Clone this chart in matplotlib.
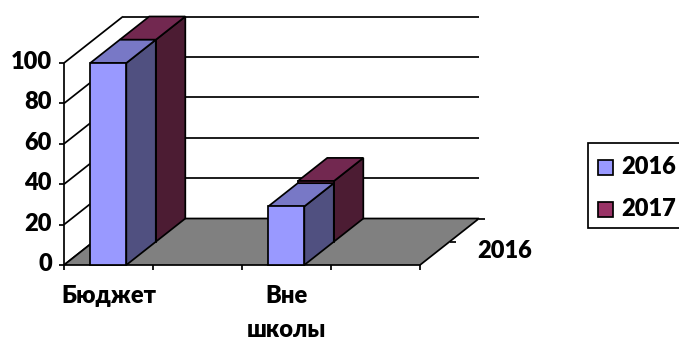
import matplotlib
matplotlib.use("Agg")
import matplotlib.pyplot as plt
from matplotlib.patches import Polygon, Rectangle

plt.rcParams["font.family"] = ["Lato", "DejaVu Sans"]

# Chart data
categories = ["Бюджет", "", "Вне\nшколы", ""]
series_names = ["2016", "2017"]
values_2016 = [100, 0, 29, 0]
values_2017 = [100, 0, 30, 0]
y_ticks = [0, 20, 40, 60, 80, 100]
depth_label = "2016"

# Colours per series: front, top, side
colors_2016 = ("#9999ff", "#7878c6", "#505080")
colors_2017 = ("#993366", "#722850", "#4c1c33")

# Pseudo 3D projection, result is in image pixels
left, base, step = 64, 265, 89
y_scale = 2.02
depth_x, depth_y = 59, 46.5
line_w = 1.25
font_size = 17
font_weight = "heavy"


def project(cat, value, depth):
    return (left + cat * step + depth * depth_x,
            base - value * y_scale - depth * depth_y)


fig = plt.figure(figsize=(6.79, 3.4), dpi=100)
ax = fig.add_axes([0, 0, 1, 1])
ax.set_xlim(0, 679)
ax.set_ylim(340, 0)
ax.axis("off")

n = len(categories)
top = max(y_ticks)


def line(p, q, z=1):
    ax.plot([p[0], q[0]], [p[1], q[1]], color="black", lw=line_w, zorder=z,
            solid_capstyle="butt")


def poly(points, color, z):
    ax.add_patch(Polygon(points, closed=True, facecolor=color, edgecolor="black",
                         lw=line_w, joinstyle="miter", zorder=z))


# Gridlines on the walls and the y axis
for v in y_ticks:
    line(project(0, v, 0), project(0, v, 1))
    if v > 0:
        line(project(0, v, 1), project(n, v, 1))
    x, y = project(0, v, 0)
    line((x - 5, y), (x, y))
    ax.text(52, y - 1, str(v), ha="right", va="center", fontsize=font_size,
            fontweight=font_weight)
line(project(0, 0, 0), project(0, top, 0))

# Floor
poly([project(0, 0, 0), project(n, 0, 0), project(n, 0, 1), project(0, 0, 1)],
     "#808080", 2)

# Ticks on the front edge and the depth edge
for i in range(n + 1):
    x, y = project(i, 0, 0)
    line((x, y), (x, y + 5), 2)
for d in [0.5, 1]:
    x, y = project(n, 0, d)
    line((x, y), (x + 6, y), 2)
ax.text(505, 251, depth_label, ha="center", va="center", fontsize=font_size,
        fontweight=font_weight)


# Bars, back row first
def draw_bar(cat, value, d0, d1, colors, z):
    x0 = cat + 0.5 - 0.205
    x1 = cat + 0.5 + 0.2
    poly([project(x1, 0, d0), project(x1, value, d0),
          project(x1, value, d1), project(x1, 0, d1)], colors[2], z)
    poly([project(x0, value, d0), project(x1, value, d0),
          project(x1, value, d1), project(x0, value, d1)], colors[1], z)
    poly([project(x0, 0, d0), project(x1, 0, d0),
          project(x1, value, d0), project(x0, value, d0)], colors[0], z)


for i in range(n):
    if values_2017[i] > 0:
        draw_bar(i, values_2017[i], 0.5, 1, colors_2017, 3)
for i in range(n):
    if values_2016[i] > 0:
        draw_bar(i, values_2016[i], 0, 0.5, colors_2016, 4)

# Category labels
for i, label in enumerate(categories):
    if label:
        x, _ = project(i + 0.5, 0, 0)
        ax.text(x, 285, label, ha="center", va="top", fontsize=font_size,
                fontweight=font_weight, linespacing=1.68, clip_on=False)

# Legend box runs off the right side of the image
ax.add_patch(Rectangle((588, 143), 100, 85, facecolor="white", edgecolor="black",
                       lw=line_w, zorder=5))
for name, colors, y in zip(series_names, (colors_2016, colors_2017), (167.5, 209.5)):
    ax.add_patch(Rectangle((598, y - 7.5), 15, 15, facecolor=colors[0],
                           edgecolor="black", lw=line_w, zorder=6))
    ax.text(621, y, name, ha="left", va="center", fontsize=font_size,
            fontweight=font_weight, zorder=6)

fig.savefig("out.png", dpi=100)
